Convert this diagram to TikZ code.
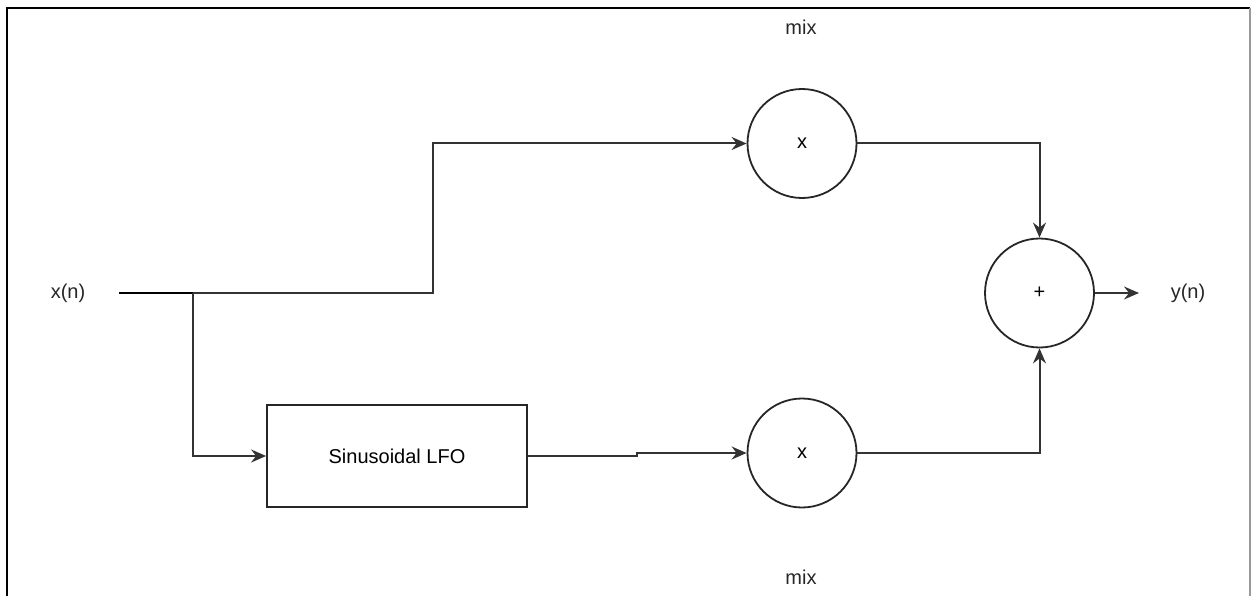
\documentclass[tikz,border=0pt]{standalone}
\usepackage{fontspec}
\setmainfont{Liberation Sans}
\usetikzlibrary{arrows.meta}
\begin{document}
\begin{tikzpicture}[x=1pt,y=-1pt,
  lbl/.style={font=\fontsize{20}{24}\selectfont, inner sep=0pt, text=black!85},
  summer/.style={circle, draw=black!85, line width=1.8pt, minimum size=109pt, inner sep=0pt, font=\fontsize{20}{24}\selectfont},
  block/.style={rectangle, draw=black!85, line width=1.8pt, minimum width=260pt, minimum height=102pt, inner sep=0pt, font=\fontsize{20}{24}\selectfont},
  wire/.style={draw=black!80, line width=2pt},
  arr/.style={wire, -{Stealth[length=15pt,width=13pt,inset=5pt]}}]
\useasboundingbox (0,0) rectangle (1257,596);
% frame
\draw[line width=2.6pt, black] (7,596) -- (7,8) -- (1250,8);
\draw[line width=1.2pt, black!40] (1250,8) -- (1250,596);
% nodes
\node[summer] (m1) at (802,143.5) {x};
\node[summer] (m2) at (802,453) {x};
\node[summer] (sum) at (1039.5,293) {+};
\node[block] (lfo) at (397,456) {Sinusoidal LFO};
\node[lbl] (xin) at (68,293) {x(n)};
\node[lbl] (yout) at (1188,293) {y(n)};
\node[lbl] (mixa) at (801,27) {mix};
\node[lbl] (mixb) at (801,577) {mix};
\coordinate (in) at (119,293);
\coordinate (br) at (193,293);
\coordinate (out) at (1139,293);
% connectors
\draw[wire, line width=2.4pt, black] (in) -- (br);
\draw[arr] (br) -- (433,293) |- (m1.west);
\draw[arr] (br) |- (lfo.west);
\draw[arr] (lfo.east) -- (637,456) -- (637,453) -- (m2.west);
\draw[arr] (m1.east) -| (sum.north);
\draw[arr] (m2.east) -| (sum.south);
\draw[arr] (sum.east) -- (out);
\end{tikzpicture}
\end{document}
